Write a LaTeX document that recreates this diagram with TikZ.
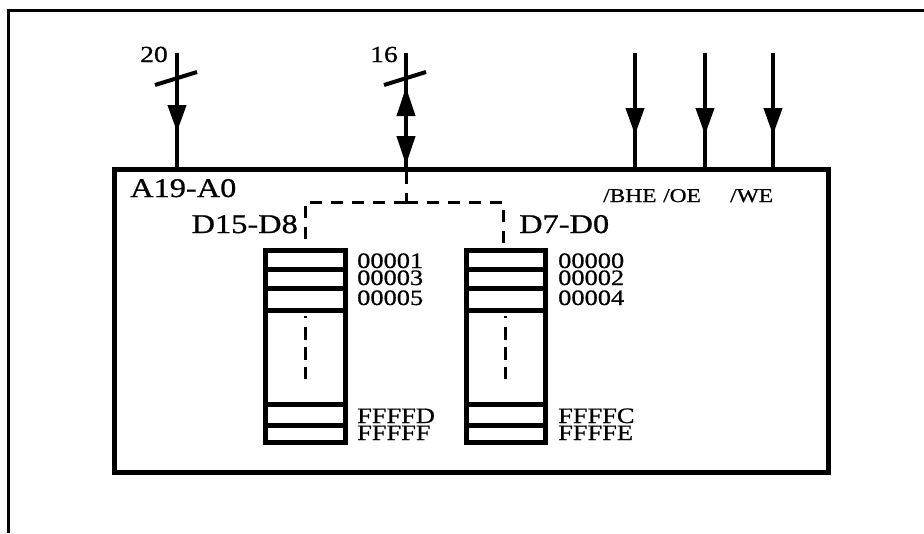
\documentclass[tikz,border=0pt]{standalone}
\usepackage{fontspec}
\setmainfont[FakeStretch=1.2,FakeBold=0.8]{Liberation Serif}
\usetikzlibrary{arrows.meta}
\begin{document}
\begin{tikzpicture}[x=1pt,y=-1pt,
  lbl/.style={font=\fontsize{27}{27}\selectfont, inner sep=0pt},
  addr/.style={font=\fontsize{22}{17}\selectfont, inner sep=0pt, align=left},
  ctl/.style={font=\fontsize{19.5}{19.5}\selectfont, inner sep=0pt, anchor=base west},
  num/.style={font=\fontsize{23}{23}\selectfont, inner sep=0pt, anchor=base east},
  busline/.style={line width=4pt},
  slashline/.style={line width=4pt},
  head/.style={-{Triangle[length=27pt,width=18pt]}},
  bihead/.style={{Triangle[length=29pt,width=18pt]}-{Triangle[length=29pt,width=18pt]}},
  framel/.style={line width=3pt},
  boxl/.style={line width=5pt},
  dashl/.style={line width=3pt, dash pattern=on 12pt off 9pt},
  coll/.style={line width=5pt}
]
\useasboundingbox (0,0) rectangle (924,533);
% outer frame
\draw[framel] (8,533) -- (8,10) -- (924,10);
% main box
\node[boxl, draw, minimum width=714pt, minimum height=303pt, inner sep=0pt] (box) at (471,320.5) {};
% address bus
\coordinate (at) at (177,53);
\coordinate (ah) at (177,132);
\coordinate (ab) at (177,169);
\draw[busline] (at) -- (ab);
\draw[busline, head] (at) -- (ah);
\coordinate (as1) at (155,85);
\coordinate (as2) at (197,72);
\draw[slashline] (as1) -- (as2);
\node[num] (n20) at (168,62) {20};
% data bus
\coordinate (dt) at (406,53);
\coordinate (du) at (406,87);
\coordinate (dd) at (406,165);
\coordinate (db) at (406,169);
\draw[busline] (dt) -- (db);
\draw[busline, bihead] (du) -- (dd);
\coordinate (ds1) at (384,85);
\coordinate (ds2) at (426,72);
\draw[slashline] (ds1) -- (ds2);
\node[num] (n16) at (398,62) {16};
% control lines
\foreach \x/\n in {635/bhe,705/oe,773/we}{
  \coordinate (\n t) at (\x,53);
  \coordinate (\n h) at (\x,135);
  \coordinate (\n b) at (\x,169);
  \draw[busline] (\n t) -- (\n b);
  \draw[busline, head] (\n t) -- (\n h);
}
% labels inside box
\node[lbl, anchor=base west] (la) at (130,197) {A19-A0};
\node[ctl] (lbhe) at (603,202) {/BHE};
\node[ctl] (loe) at (663,202) {/OE};
\node[ctl] (lwe) at (730,202) {/WE};
\node[lbl, anchor=base east] (lhi) at (298,233) {D15-D8};
\node[lbl, anchor=base west] (llo) at (519,233) {D7-D0};
% dashed internal bus
\coordinate (j0) at (406,172);
\coordinate (j1) at (406,202);
\coordinate (jl) at (305,202);
\coordinate (jr) at (503,202);
\coordinate (cl) at (305,248);
\coordinate (cr) at (503,248);
\draw[dashl, dash phase=0pt] (j0) -- (j1);
\draw[dashl] (j1) -- (jl) -- (cl);
\draw[dashl] (j1) -- (jr) -- (cr);
% memory columns
\foreach \xl/\xr/\n in {265/345/hi,466/545/lo}{
  \draw[coll] (\xl,250) rectangle (\xr,442);
  \foreach \y in {269,288,310,404,425}{
    \draw[coll] (\xl,\y) -- (\xr,\y);
  }
  \draw[line width=3pt, dash pattern=on 2pt off 9pt on 13pt off 7pt on 13pt off 7pt on 12pt off 100pt] ({(\xl+\xr)/2},316) -- ({(\xl+\xr)/2},380);
}
% addresses (anchor = baseline of last line)
\node[addr, anchor=base west] (a1) at (357,305) {00001\\00003\\[3pt]00005};
\node[addr, anchor=base west] (ad) at (357,440) {FFFFD\\FFFFF};
\node[addr, anchor=base west] (b0) at (558,305) {00000\\00002\\[3pt]00004};
\node[addr, anchor=base west] (bc) at (558,440) {FFFFC\\FFFFE};
\end{tikzpicture}
\end{document}
